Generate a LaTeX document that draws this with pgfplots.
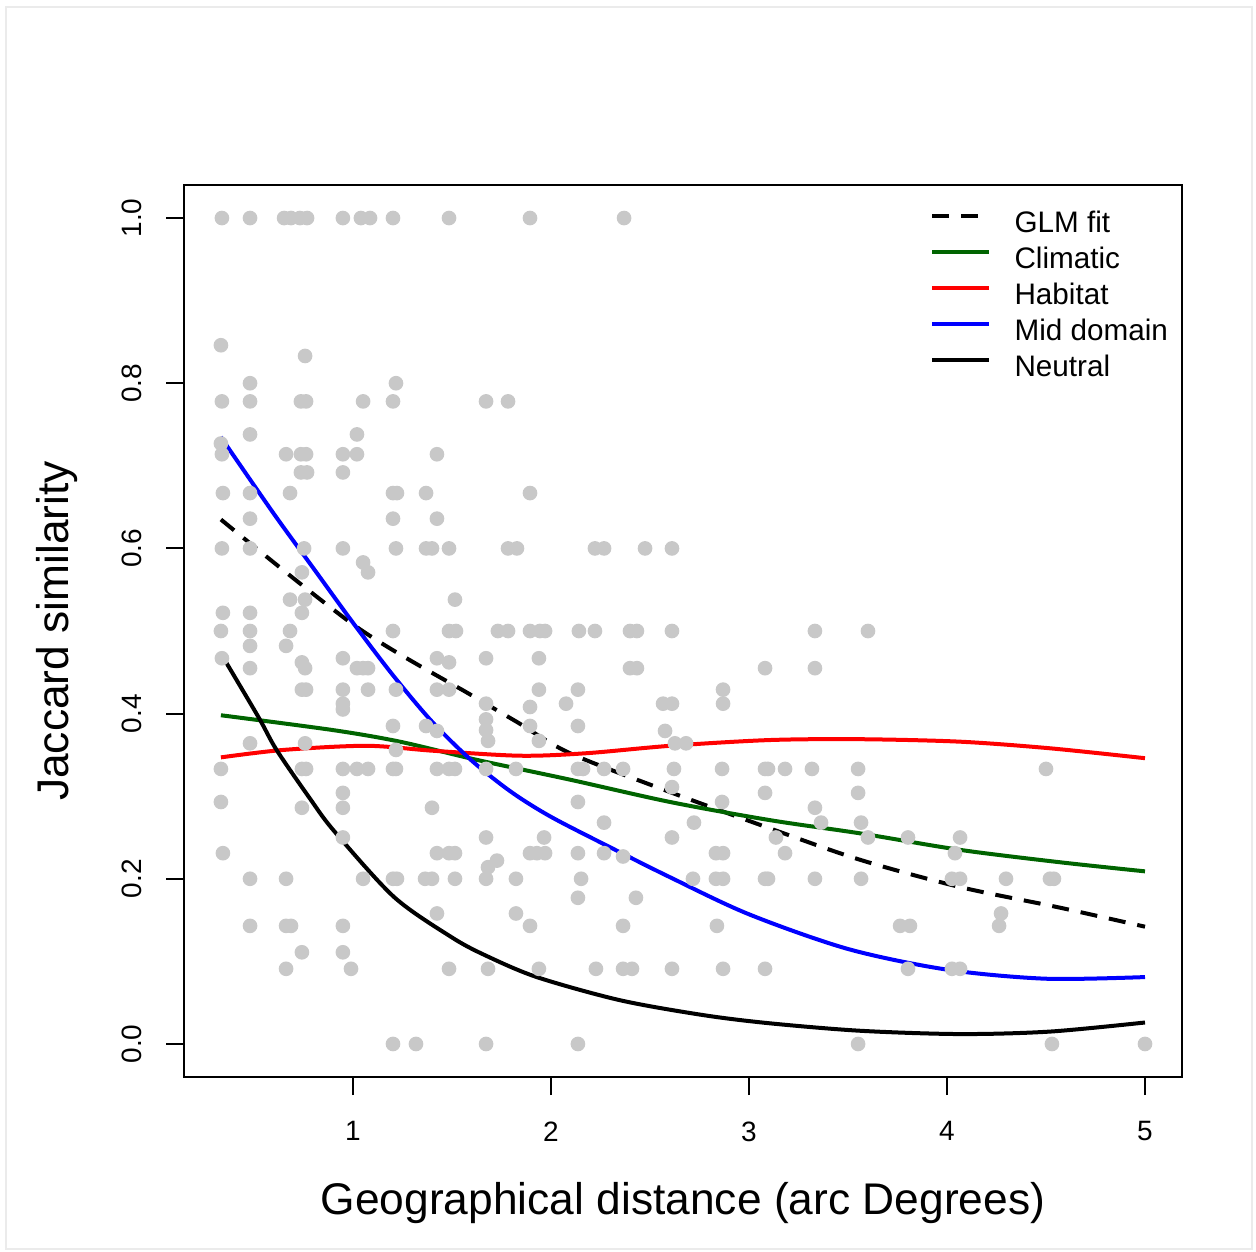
\documentclass[border=0pt]{standalone}
\usepackage{fontspec}
\setmainfont{Liberation Sans}
\usepackage{pgfplots}
\pgfplotsset{compat=1.18}
\definecolor{ptgray}{RGB}{200,200,200}
\definecolor{dkgreen}{RGB}{0,100,0}
\begin{document}
\begin{tikzpicture}
\begin{axis}[
  scale only axis,
  width=299.4pt, height=267.6pt,
  xmin=0.1465, xmax=5.187, ymin=-0.04, ymax=1.04,
  axis line style={line width=0.6pt},
  xtick={1,2,3,4,5}, ytick={0,0.2,0.4,0.6,0.8,1.0},
  xtick pos=bottom, ytick pos=left,
  tick align=outside, major tick length=5.4pt,
  tick style={line width=0.6pt, black},
  /pgf/number format/assume math mode=true,
  ticklabel style={font=\fontsize{8.4}{10}\selectfont},
  xticklabel style={yshift=-4.4pt},
  yticklabel style={rotate=90, anchor=south, yshift=3.6pt,
    /pgf/number format/fixed, /pgf/number format/fixed zerofill, /pgf/number format/precision=1},
  xlabel={Geographical distance (arc Degrees)},
  ylabel={Jaccard similarity},
  label style={font=\fontsize{13.3}{15}\selectfont},
  xlabel style={at={(axis description cs:0.5,0)}, anchor=center, yshift=-37.8pt},
  ylabel style={at={(axis description cs:-0.1273,0.5)}, anchor=center},
  legend style={draw=none, fill=none, at={(rel axis cs:0.737,0.982)}, anchor=north west,
    font=\fontsize{8.9}{10}\selectfont, legend cell align=left, row sep=0pt, column sep=7pt,
    nodes={inner sep=0pt, text height=7.2pt, text depth=3.6pt}},
  legend image code/.code={\draw[#1] (0pt,0.32em) -- (17.1pt,0.32em);},
]
\addplot[only marks, mark=*, mark size=2.0pt, ptgray, forget plot] coordinates {
(0.338,1.0)(0.480,1.0)(0.652,1.0)(0.687,1.0)(0.732,1.0)(0.768,1.0)(0.949,1.0)(1.040,1.0)(1.086,1.0)(1.202,1.0)(1.485,1.0)(1.894,1.0)(2.369,1.0)
(0.333,0.846)(0.758,0.833)(0.480,0.8)(1.217,0.8)
(0.338,0.778)(0.480,0.778)(0.737,0.778)(0.763,0.778)(1.051,0.778)(1.202,0.778)(1.672,0.778)(1.783,0.778)
(0.480,0.738)(1.020,0.738)(0.333,0.727)
(0.338,0.714)(0.662,0.714)(0.737,0.714)(0.763,0.714)(0.949,0.714)(1.020,0.714)(1.424,0.714)
(0.737,0.692)(0.768,0.692)(0.949,0.692)
(0.343,0.667)(0.480,0.667)(0.682,0.667)(1.202,0.667)(1.222,0.667)(1.369,0.667)(1.894,0.667)
(0.480,0.636)(1.202,0.636)(1.424,0.636)
(0.338,0.6)(0.480,0.6)(0.753,0.6)(0.949,0.6)(1.217,0.6)(1.369,0.6)(1.399,0.6)(1.485,0.6)(1.783,0.6)(1.828,0.6)(2.222,0.6)(2.268,0.6)(2.475,0.6)(2.611,0.6)
(1.051,0.583)(0.742,0.571)(1.076,0.571)
(0.682,0.538)(0.758,0.538)(1.515,0.538)
(0.343,0.522)(0.480,0.522)(0.742,0.522)
(0.333,0.5)(0.480,0.5)(0.682,0.5)(1.202,0.5)(1.485,0.5)(1.520,0.5)(1.732,0.5)(1.783,0.5)(1.894,0.5)(1.944,0.5)(1.970,0.5)(2.141,0.5)(2.222,0.5)(2.399,0.5)(2.434,0.5)(2.611,0.5)(3.333,0.5)(3.601,0.5)
(0.480,0.482)(0.662,0.482)
(0.338,0.467)(0.949,0.467)(1.424,0.467)(1.672,0.467)(1.939,0.467)
(0.742,0.462)(1.485,0.462)
(0.480,0.455)(0.758,0.455)(1.020,0.455)(1.051,0.455)(1.076,0.455)(2.399,0.455)(2.434,0.455)(3.081,0.455)(3.333,0.455)
(0.742,0.429)(0.763,0.429)(0.949,0.429)(1.076,0.429)(1.217,0.429)(1.424,0.429)(1.485,0.429)(1.939,0.429)(2.136,0.429)(2.869,0.429)
(0.949,0.412)(1.672,0.412)(2.076,0.412)(2.566,0.412)(2.611,0.412)(2.869,0.412)
(0.949,0.405)(1.894,0.408)(1.672,0.393)
(1.672,0.38)(1.894,0.385)(2.136,0.385)(1.202,0.385)(1.369,0.385)(1.424,0.379)(2.576,0.379)
(1.682,0.367)(1.939,0.367)(2.626,0.364)(2.682,0.364)
(0.480,0.364)(0.758,0.364)(1.217,0.356)
(0.333,0.333)(0.742,0.333)(0.763,0.333)(0.949,0.333)(1.020,0.333)(1.076,0.333)(1.202,0.333)(1.217,0.333)(1.424,0.333)(1.485,0.333)(1.515,0.333)(1.672,0.333)(1.823,0.333)(2.136,0.333)(2.162,0.333)(2.268,0.333)(2.364,0.333)(2.621,0.333)(2.864,0.333)(3.081,0.333)(3.096,0.333)(3.182,0.333)(3.318,0.333)(3.551,0.333)(4.5,0.333)
(2.611,0.311)(0.949,0.304)(3.081,0.304)(3.551,0.304)
(0.333,0.293)(2.864,0.293)(2.136,0.293)
(0.742,0.286)(0.949,0.286)(1.399,0.286)(3.333,0.286)
(2.722,0.268)(2.268,0.268)(3.364,0.268)(3.566,0.268)
(0.949,0.25)(1.672,0.25)(1.965,0.25)(2.611,0.25)(3.136,0.25)(3.601,0.25)(3.803,0.25)(4.066,0.25)
(0.343,0.231)(1.424,0.231)(1.485,0.231)(1.515,0.231)(1.894,0.231)(1.929,0.231)(1.970,0.231)(2.136,0.231)(2.268,0.231)(2.364,0.227)(2.833,0.231)(2.869,0.231)(3.182,0.231)(4.040,0.231)
(1.727,0.222)(1.682,0.214)
(0.480,0.2)(0.662,0.2)(1.051,0.2)(1.202,0.2)(1.222,0.2)(1.364,0.2)(1.399,0.2)(1.515,0.2)(1.672,0.2)(1.823,0.2)(2.152,0.2)(2.717,0.2)(2.833,0.2)(2.869,0.2)(3.081,0.2)(3.096,0.2)(3.333,0.2)(3.566,0.2)(4.025,0.2)(4.066,0.2)(4.298,0.2)(4.520,0.2)(4.540,0.2)
(2.136,0.177)(2.429,0.177)
(1.424,0.158)(1.823,0.158)(4.273,0.158)
(0.480,0.143)(0.662,0.143)(0.687,0.143)(0.949,0.143)(1.894,0.143)(2.364,0.143)(2.838,0.143)(3.763,0.143)(3.813,0.143)(4.263,0.143)
(0.742,0.111)(0.949,0.111)
(0.662,0.091)(0.990,0.091)(1.485,0.091)(1.682,0.091)(1.939,0.091)(2.227,0.091)(2.364,0.091)(2.409,0.091)(2.611,0.091)(2.869,0.091)(3.081,0.091)(3.803,0.091)(4.025,0.091)(4.066,0.091)
(1.202,0)(1.318,0)(1.672,0)(2.136,0)(3.551,0)(4.530,0)(5.0,0)
};
\addplot[black, line width=1.2pt, dash pattern=on 5.1pt off 3.6pt, smooth] coordinates {
(0.333,0.635)(1.018,0.505)(1.6,0.422)(1.827,0.390)(2.096,0.352)(2.601,0.305)(3.106,0.261)(3.561,0.223)(4.066,0.19)(4.571,0.165)(5.0,0.142)};
\addlegendentry{GLM fit}
\addplot[dkgreen, line width=1.2pt, smooth] coordinates {
(0.333,0.398)(0.9,0.380)(1.237,0.366)(1.625,0.344)(2.096,0.320)(2.601,0.293)(3.106,0.271)(3.561,0.255)(4.066,0.235)(4.571,0.220)(5.0,0.209)};
\addlegendentry{Climatic}
\addplot[red, line width=1.2pt, smooth] coordinates {
(0.333,0.347)(0.648,0.356)(1.069,0.361)(1.406,0.355)(1.843,0.349)(2.177,0.352)(2.601,0.361)(3.106,0.368)(3.561,0.369)(4.066,0.366)(4.520,0.358)(5.0,0.346)};
\addlegendentry{Habitat}
\addplot[blue, line width=1.2pt, smooth] coordinates {
(0.332,0.735)(0.6,0.642)(0.8,0.576)(1.0,0.510)(1.2,0.447)(1.4,0.390)(1.6,0.343)(1.8,0.305)(2.0,0.275)(2.3,0.238)(2.6,0.202)(3.0,0.157)(3.5,0.115)(4.0,0.090)(4.5,0.079)(5.0,0.081)};
\addlegendentry{Mid domain}
\addplot[black, line width=1.2pt, smooth] coordinates {
(0.332,0.473)(0.522,0.396)(0.614,0.356)(0.783,0.297)(0.904,0.258)(1.207,0.178)(1.493,0.130)(1.662,0.108)(1.928,0.081)(2.348,0.053)(2.768,0.035)(3.106,0.025)(3.561,0.016)(4.066,0.012)(4.520,0.015)(5.0,0.026)};
\addlegendentry{Neutral}
\coordinate (sw) at (rel axis cs:0,0);
\coordinate (ne) at (rel axis cs:1,1);
\end{axis}
\pgfresetboundingbox
\path (sw) ++(-55.2pt,-52.2pt) coordinate (pa);
\path (ne) ++(22.2pt,55.5pt) coordinate (pb);
\path (pa) rectangle (pb);
\draw[black!8, line width=0.4pt] ([shift={(1.8pt,0.6pt)}]pa) rectangle ([shift={(-1.2pt,-2.1pt)}]pb);
\end{tikzpicture}
\end{document}
